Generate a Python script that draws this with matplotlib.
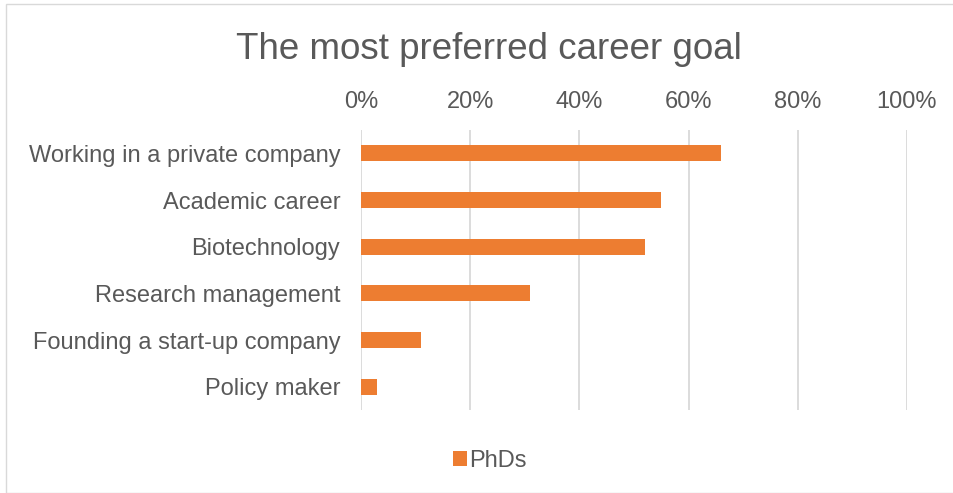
import matplotlib.pyplot as plt
from matplotlib.patches import Rectangle
import numpy as np

plt.rcParams['font.family'] = ['Liberation Sans', 'DejaVu Sans']

categories = ['Working in a private company', 'Academic career', 'Biotechnology',
              'Research management', 'Founding a start-up company', 'Policy maker']
phds = [66, 55, 52, 31, 11, 3]
ticks = [0, 20, 40, 60, 80, 100]
tick_labels = ['0%', '20%', '40%', '60%', '80%', '100%']

text_color = '#595959'
bar_color = '#ED7D31'

fig = plt.figure(figsize=(9.54, 4.93), dpi=100)
fig.patches.append(Rectangle((6 / 954, 0), 1 - 6 / 954, 1 - 4 / 493, transform=fig.transFigure,
                             fill=False, edgecolor='#D9D9D9', linewidth=1))
ax = fig.add_axes([361 / 954, 1 - 410 / 493, 546 / 954, 280 / 493])

y = np.arange(len(categories))
ax.barh(y, phds, height=0.34, color=bar_color, label='PhDs', zorder=3)
ax.set_ylim(len(categories) - 0.5, -0.5)
ax.set_xlim(0, 100)
ax.set_yticks(y, categories)
ax.set_xticks(ticks, tick_labels)
ax.xaxis.tick_top()
ax.tick_params(axis='both', length=0, colors=text_color, labelsize=17)
ax.tick_params(axis='x', pad=12)
ax.tick_params(axis='y', pad=15)
ax.xaxis.grid(True, color='#D9D9D9', linewidth=1.3, zorder=0)
for s in ax.spines.values():
    s.set_visible(False)

fig.text(489 / 954, 1 - 59 / 493, 'The most preferred career goal', ha='center', va='baseline',
         fontsize=26.5, color=text_color)
fig.legend(loc='center', bbox_to_anchor=(490 / 954, 1 - 461 / 493), frameon=False,
           fontsize=17, labelcolor=text_color, handlelength=0.6, handleheight=0.6,
           handletextpad=0.1)

plt.savefig('out.png')
